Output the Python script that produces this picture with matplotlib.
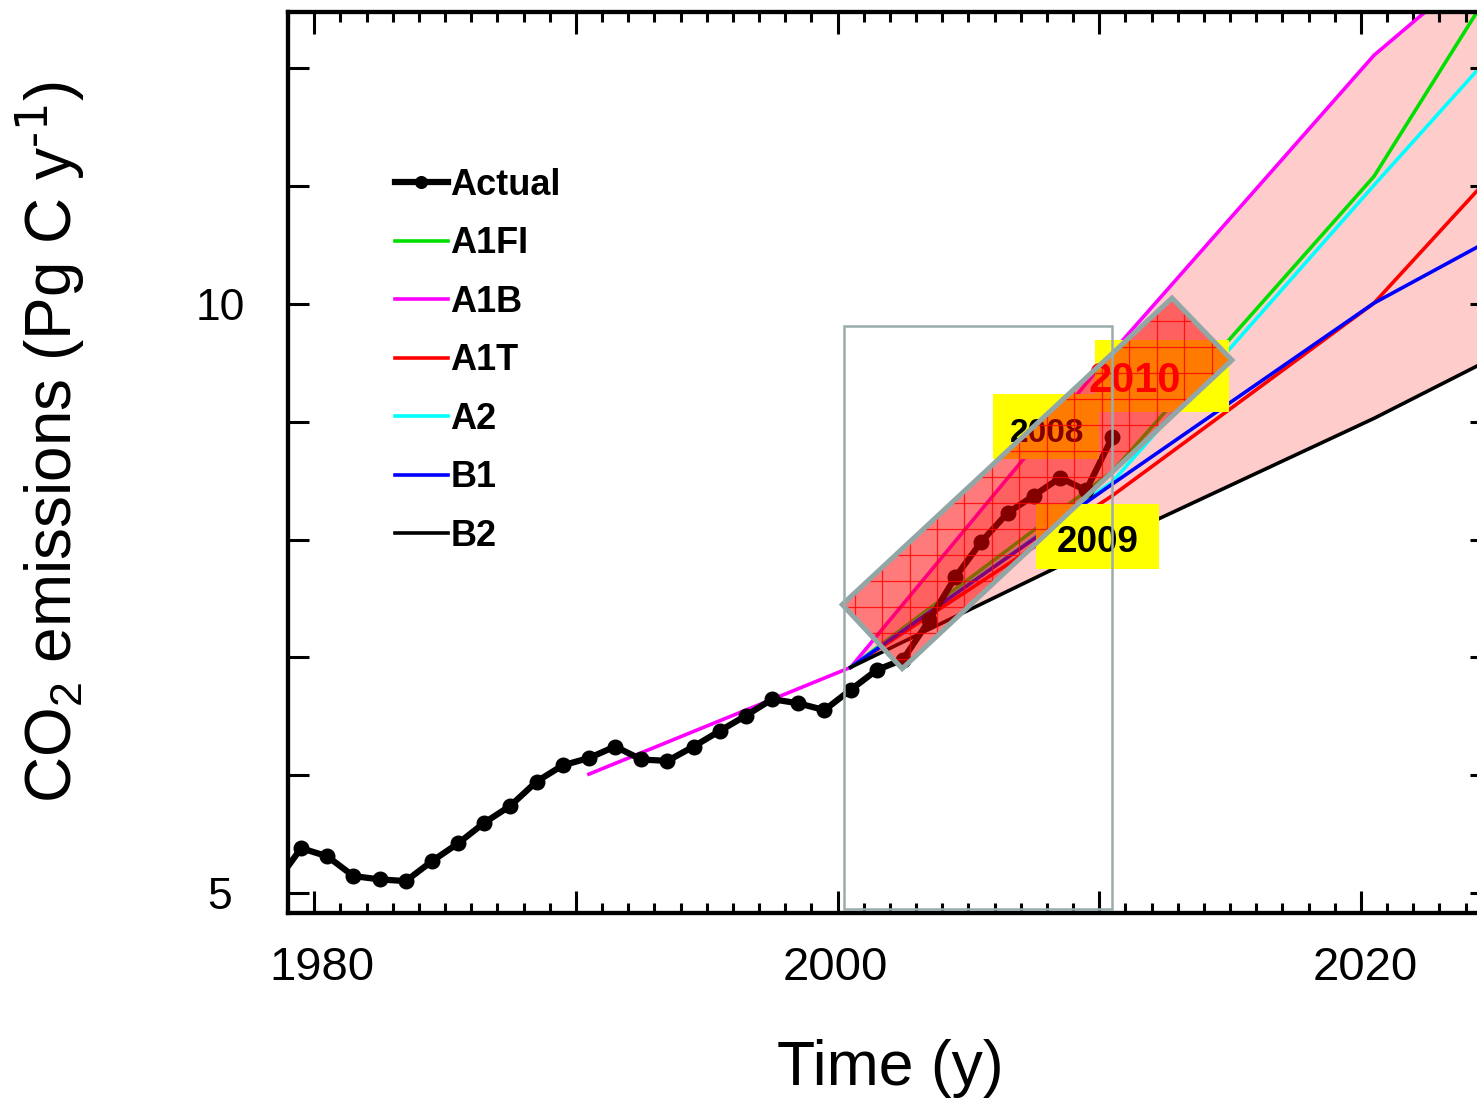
import numpy as np
import matplotlib
matplotlib.use('Agg')
import matplotlib.pyplot as plt
from matplotlib.patches import Polygon, Rectangle
from matplotlib.ticker import FixedLocator, FixedFormatter, NullFormatter, NullLocator
from matplotlib import font_manager

plt.rcParams['font.family'] = ['Liberation Sans', 'DejaVu Sans']
plt.rcParams['mathtext.default'] = 'regular'

"""data read off the figure (Pg C per year)"""
actual_years = np.arange(1978, 2011)
actual = [5.05, 5.27, 5.22, 5.10, 5.08, 5.07, 5.19, 5.30, 5.43, 5.54,
          5.70, 5.81, 5.86, 5.94, 5.85, 5.84, 5.94, 6.05, 6.16, 6.28,
          6.25, 6.20, 6.35, 6.50, 6.58, 6.89, 7.25, 7.56, 7.82, 7.98,
          8.15, 8.03, 8.55]

scen_years = np.array([2000, 2010, 2020, 2030])
a1b_years = np.array([1990, 2000, 2010, 2020, 2030])
a1fi = [6.52, 8.21, 11.62, 19.0]
a1b = [5.75, 6.52, 9.45, 13.40, 17.4]
a1t = [6.52, 7.98, 10.01, 14.0]
a2 = [6.52, 8.11, 11.5, 16.2]
b1 = [6.52, 8.09, 10.01, 11.83]
b2 = [6.52, 7.57, 8.74, 10.22]

labels = ['Actual', 'A1FI', 'A1B', 'A1T', 'A2', 'B1', 'B2']
colors = ['black', '#00E000', '#FF00FF', '#FF0000', '#00FFFF', '#0000FF', 'black']

mid = 0.5   # values are plotted at mid-year

"""figure set up"""
fig = plt.figure(figsize=(14.77, 11.03), dpi=100)
ax = fig.add_axes([288/1477, 1 - 913/1103, (1480 - 288)/1477, (913 - 12)/1103])
ax.set_yscale('log')

# envelope of the scenarios
ax.fill_between(scen_years + mid, a1b[1:], b2, color='#FFCCCC', lw=0, zorder=1)

ax.plot(scen_years + mid, a1fi, color=colors[1], lw=2.6, label=labels[1], zorder=2)
ax.plot(a1b_years + mid, a1b, color=colors[2], lw=2.6, label=labels[2], zorder=2)
ax.plot(scen_years + mid, a1t, color=colors[3], lw=2.6, label=labels[3], zorder=2)
ax.plot(scen_years + mid, a2, color=colors[4], lw=2.6, label=labels[4], zorder=2)
ax.plot(scen_years + mid, b1, color=colors[5], lw=2.6, label=labels[5], zorder=2)
ax.plot(scen_years + mid, b2, color=colors[6], lw=2.6, label=labels[6], zorder=2)
ax.plot(actual_years + mid, actual, color='black', lw=4.5, marker='o', ms=10.5,
        label=labels[0], zorder=3)

"""yellow year labels"""
names = {f.name for f in font_manager.fontManager.ttflist}
narrow = 'Liberation Sans Narrow' if 'Liberation Sans Narrow' in names else 'Liberation Sans'

ax.add_patch(Rectangle((2009.85, 8.81), 5.12, 9.59 - 8.81, facecolor='#FFFF00', lw=0, zorder=4))
ax.add_patch(Rectangle((2005.95, 8.33), 4.05, 8.99 - 8.33, facecolor='#FFFF00', lw=0, zorder=4))
ax.add_patch(Rectangle((2007.6, 7.32), 4.69, 7.90 - 7.32, facecolor='#FFFF00', lw=0, zorder=4))
ax.text(2011.37, 9.02, '2010', color='red', fontsize=30, weight='bold',
        ha='center', va='baseline', zorder=5)
ax.text(2008.0, 8.50, '2008', color='black', fontsize=24, weight='bold',
        family=narrow, ha='center', va='baseline', zorder=5)
ax.text(2009.94, 7.47, '2009', color='black', fontsize=26.5, weight='bold',
        ha='center', va='baseline', zorder=5)

"""tilted highlight box"""
box = [(2000.18, 7.02), (2012.78, 10.07), (2015.07, 9.36), (2002.47, 6.51)]
shade = Polygon(box, closed=True, facecolor=(1, 0, 0, 0.52), lw=0, zorder=6)
ax.add_patch(shade)
# thin red grid inside the box
for xv in np.arange(1999.6, 2016, 1.05):
    gl = ax.axvline(xv, color='red', lw=0.9, alpha=0.8, zorder=6.5)
    gl.set_clip_path(shade)
for hv in 5 * 2**(np.arange(0, 30) * 26/589):
    gl = ax.axhline(hv, color='red', lw=0.9, alpha=0.8, zorder=6.5)
    gl.set_clip_path(shade)
ax.add_patch(Polygon(box, closed=True, fill=False, edgecolor='#93A6A6',
                     lw=3.6, joinstyle='miter', zorder=7))

# thin grey frame round the last decade
ax.add_patch(Rectangle((2000.23, 4.906), 10.27, 9.74 - 4.906, fill=False,
                       edgecolor='#9AACAC', lw=1.8, zorder=8))

"""axes"""
ax.set_xlim(1979.0, 2024.55)
ax.set_ylim(4.883, 14.10)

ax.xaxis.set_major_locator(FixedLocator([1980, 1990, 2000, 2010, 2020]))
ax.xaxis.set_major_formatter(NullFormatter())
ax.xaxis.set_minor_locator(FixedLocator(np.arange(1979, 2025)))
ax.tick_params(axis='x', which='major', direction='in', length=16, width=2.2, top=True)
ax.tick_params(axis='x', which='minor', direction='in', length=7, width=2.2, top=True)

yt = [5 * 2**(k/5) for k in range(-1, 8)]
ax.yaxis.set_major_locator(FixedLocator([5, 10]))
ax.yaxis.set_major_formatter(FixedFormatter(['5', '10']))
ax.yaxis.set_minor_locator(FixedLocator([v for v in yt if abs(v - 5) > 0.01 and abs(v - 10) > 0.01]))
ax.yaxis.set_minor_formatter(NullFormatter())
ax.tick_params(axis='y', which='both', direction='in', length=15, width=2.2,
               right=False, labelsize=32, pad=49)
for t in ax.get_yticklabels():
    t.set_horizontalalignment('center')

for s in ax.spines.values():
    s.set_linewidth(3)

ax2 = ax.twinx()
ax2.set_yscale('log')
ax2.set_ylim(4.883, 14.10)
ax2.yaxis.set_major_locator(FixedLocator(yt))
ax2.yaxis.set_major_formatter(NullFormatter())
ax2.yaxis.set_minor_locator(NullLocator())
ax2.tick_params(axis='y', direction='in', length=7, width=2.2)
for s in ax2.spines.values():
    s.set_linewidth(3)

leg = ax.legend([ax.lines[6], ax.lines[0], ax.lines[1], ax.lines[2], ax.lines[3],
                 ax.lines[4], ax.lines[5]], labels,
                loc='upper left', bbox_to_anchor=(0.090, 0.827), frameon=False,
                prop={'weight': 'bold', 'size': 26}, handlelength=1.45,
                handletextpad=0.08, labelspacing=0.65, borderpad=0, borderaxespad=0,
                markerscale=0.8)
leg.set_zorder(10)

"""year labels and axis titles"""
for yr, px in [('1980', 322), ('2000', 835), ('2020', 1365)]:
    fig.text(px/1477, 1 - 968/1103, yr, fontsize=34, ha='center', va='center')

fig.text(50/1477, 1 - 442/1103, r'CO$_2$ emissions (Pg C y$^{\text{-1}}$)', rotation=90,
         fontsize=46, ha='center', va='center')
fig.text(890/1477, 1 - 1068/1103, 'Time (y)', fontsize=45, ha='center', va='center')

plt.savefig('out.png', dpi=100)
